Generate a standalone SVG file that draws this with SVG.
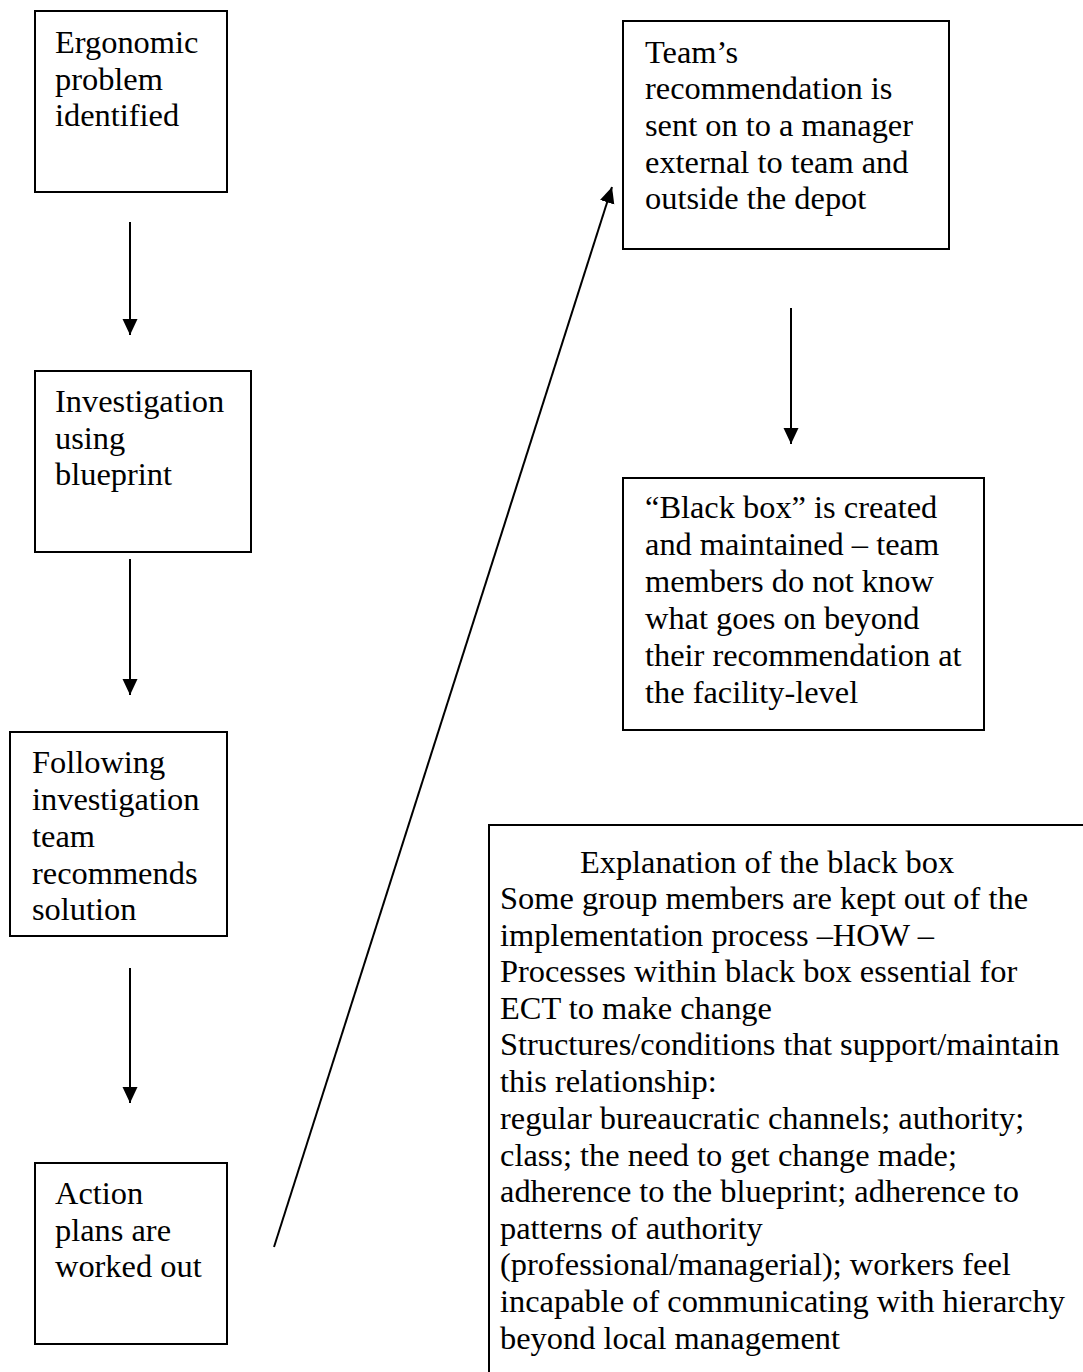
<svg xmlns="http://www.w3.org/2000/svg" width="1083" height="1372" viewBox="0 0 1083 1372">
<style>
.box{fill:#fff;stroke:#000;stroke-width:2}
.t{font-family:"Liberation Serif","Times New Roman",serif;font-size:32.4px;fill:#000}
.c{fill:none;stroke:#000;stroke-width:2}
</style>
<defs>
<marker id="ah" markerUnits="userSpaceOnUse" markerWidth="18" markerHeight="18" viewBox="0 0 18 18" refX="16" refY="9" orient="auto">
<path d="M0,1.5 L16,9 L0,16.5 Z" fill="#000"/>
</marker>
</defs>
<rect width="1083" height="1372" fill="#fff"/>
<g id="connectors">
<line class="c" x1="130" y1="222" x2="130" y2="335" marker-end="url(#ah)"/>
<line class="c" x1="130" y1="559" x2="130" y2="695" marker-end="url(#ah)"/>
<line class="c" x1="130" y1="968" x2="130" y2="1103" marker-end="url(#ah)"/>
<line class="c" x1="274" y1="1247" x2="612" y2="187" marker-end="url(#ah)"/>
<line class="c" x1="791" y1="308" x2="791" y2="444" marker-end="url(#ah)"/>
</g>
<g id="n1">
<rect class="box" x="35" y="11" width="192" height="181"/>
<text class="t"><tspan x="55" y="53">Ergonomic</tspan><tspan x="55" y="90">problem</tspan><tspan x="55" y="126">identified</tspan></text>
</g>
<g id="n2">
<rect class="box" x="35" y="371" width="216" height="181"/>
<text class="t"><tspan x="55" y="412">Investigation</tspan><tspan x="55" y="449">using</tspan><tspan x="55" y="485">blueprint</tspan></text>
</g>
<g id="n3">
<rect class="box" x="10" y="732" width="217" height="204"/>
<text class="t"><tspan x="32" y="773">Following</tspan><tspan x="32" y="810">investigation</tspan><tspan x="32" y="847">team</tspan><tspan x="32" y="884">recommends</tspan><tspan x="32" y="920">solution</tspan></text>
</g>
<g id="n4">
<rect class="box" x="35" y="1163" width="192" height="181"/>
<text class="t"><tspan x="55" y="1204">Action</tspan><tspan x="55" y="1241">plans are</tspan><tspan x="55" y="1277">worked out</tspan></text>
</g>
<g id="n5">
<rect class="box" x="623" y="21" width="326" height="228"/>
<text class="t"><tspan x="645" y="63">Team’s</tspan><tspan x="645" y="99">recommendation is</tspan><tspan x="645" y="136">sent on to a manager</tspan><tspan x="645" y="173">external to team and</tspan><tspan x="645" y="209">outside the depot</tspan></text>
</g>
<g id="n6">
<rect class="box" x="623" y="478" width="361" height="252"/>
<text class="t"><tspan x="645" y="518">“Black box” is created</tspan><tspan x="645" y="555">and maintained – team</tspan><tspan x="645" y="592">members do not know</tspan><tspan x="645" y="629">what goes on beyond</tspan><tspan x="645" y="666">their recommendation at</tspan><tspan x="645" y="703">the facility-level</tspan></text>
</g>
<g id="n7">
<rect class="box" x="489" y="825" width="610" height="570"/>
<text class="t" x="767" y="873" text-anchor="middle">Explanation of the black box</text>
<text class="t"><tspan x="500" y="909">Some group members are kept out of the</tspan><tspan x="500" y="946">implementation process –HOW –</tspan><tspan x="500" y="982">Processes within black box essential for</tspan><tspan x="500" y="1019">ECT to make change</tspan><tspan x="500" y="1055">Structures/conditions that support/maintain</tspan><tspan x="500" y="1092">this relationship:</tspan><tspan x="500" y="1129">regular bureaucratic channels; authority;</tspan><tspan x="500" y="1166">class; the need to get change made;</tspan><tspan x="500" y="1202">adherence to the blueprint; adherence to</tspan><tspan x="500" y="1239">patterns of authority</tspan><tspan x="500" y="1275">(professional/managerial); workers feel</tspan><tspan x="500" y="1312">incapable of communicating with hierarchy</tspan><tspan x="500" y="1349">beyond local management</tspan></text>
</g>
</svg>
